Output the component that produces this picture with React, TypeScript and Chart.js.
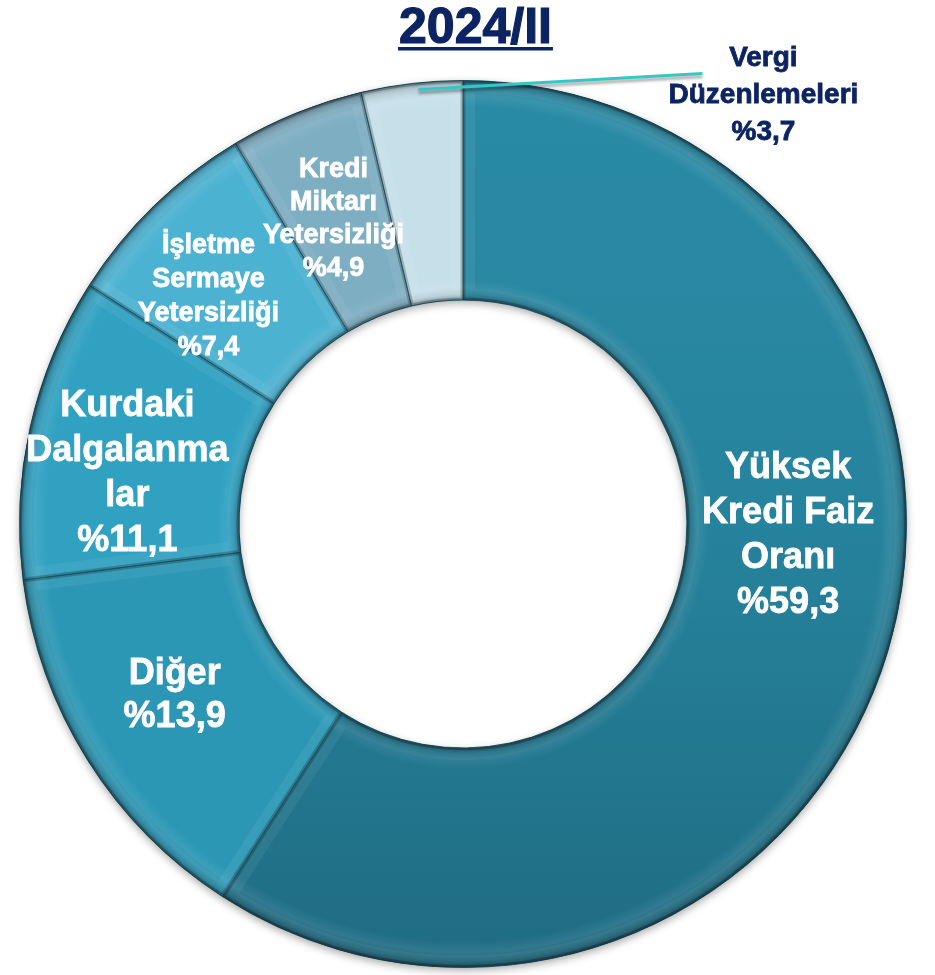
import React, { useEffect, useRef } from "react";
import { Chart, registerables } from "chart.js";

Chart.register(...registerables);

const TITLE = "2024/II";
const categories = [
  "Yüksek Kredi Faiz Oranı",
  "Diğer",
  "Kurdaki Dalgalanmalar",
  "İşletme Sermaye Yetersizliği",
  "Kredi Miktarı Yetersizliği",
  "Vergi Düzenlemeleri",
];
const values = [59.3, 13.9, 11.1, 7.4, 4.9, 3.7];
const labelLines = [
  ["Yüksek", "Kredi Faiz", "Oranı"],
  ["Diğer"],
  ["Kurdaki", "Dalgalanma", "lar"],
  ["İşletme", "Sermaye", "Yetersizliği"],
  ["Kredi", "Miktarı", "Yetersizliği"],
  ["Vergi", "Düzenlemeleri"],
];
const colors = ["#26839d", "#2b97b5", "#31a1c2", "#4cb2d2", "#7eaec2", "#c6e0ea"];

// label styling / nudges relative to each arc's centre point
const labelStyle = [
  { size: 36, lh: 45, dx: 5, dy: -83, color: "#ffffff" },
  { size: 36, lh: 43, dx: -6, dy: -6, color: "#ffffff" },
  { size: 36, lh: 45, dx: -10, dy: 23, color: "#ffffff" },
  { size: 27, lh: 34, dx: -22, dy: 12, color: "#ffffff" },
  { size: 27, lh: 33, dx: -4, dy: 4, color: "#ffffff" },
  { size: 28, lh: 37, dx: 339, dy: -97, color: "#0d2463" },
];

const FONT = '"Liberation Sans", Arial, sans-serif';
const fmt = (v: number) => "%" + v.toFixed(1).replace(".", ",");

function arcPath(ctx: CanvasRenderingContext2D, a: any) {
  ctx.beginPath();
  ctx.arc(a.x, a.y, a.outerRadius, a.startAngle, a.endAngle);
  ctx.arc(a.x, a.y, a.innerRadius, a.endAngle, a.startAngle, true);
  ctx.closePath();
}

const decoPlugin = {
  id: "deco",
  beforeDatasetsDraw(chart: any) {
    const ctx: CanvasRenderingContext2D = chart.ctx;
    const meta = chart.getDatasetMeta(0);
    const a0 = meta.data[0];
    if (!a0) return;
    ctx.save();
    ctx.shadowColor = "rgba(0,0,0,0.35)";
    ctx.shadowBlur = 8;
    ctx.shadowOffsetY = 3;
    ctx.fillStyle = "#1f6f86";
    ctx.beginPath();
    ctx.arc(a0.x, a0.y, a0.outerRadius, 0, Math.PI * 2);
    ctx.arc(a0.x, a0.y, a0.innerRadius, Math.PI * 2, 0, true);
    ctx.closePath();
    ctx.fill();
    ctx.restore();
  },
  afterDatasetsDraw(chart: any) {
    const ctx: CanvasRenderingContext2D = chart.ctx;
    const meta = chart.getDatasetMeta(0);
    meta.data.forEach((a: any) => {
      ctx.save();
      arcPath(ctx, a);
      ctx.clip();
      const g = ctx.createRadialGradient(a.x, a.y, a.innerRadius, a.x, a.y, a.outerRadius);
      g.addColorStop(0, "rgba(0,0,0,0.35)");
      g.addColorStop(0.025, "rgba(0,0,0,0.08)");
      g.addColorStop(0.06, "rgba(255,255,255,0.06)");
      g.addColorStop(0.1, "rgba(255,255,255,0)");
      g.addColorStop(0.88, "rgba(255,255,255,0)");
      g.addColorStop(0.93, "rgba(255,255,255,0.08)");
      g.addColorStop(0.975, "rgba(0,0,0,0.12)");
      g.addColorStop(1, "rgba(0,0,0,0.42)");
      ctx.fillStyle = g;
      ctx.fillRect(a.x - a.outerRadius, a.y - a.outerRadius, a.outerRadius * 2, a.outerRadius * 2);
      arcPath(ctx, a);
      ctx.lineWidth = 24;
      ctx.strokeStyle = "rgba(255,255,255,0.06)";
      ctx.stroke();
      ctx.lineWidth = 5;
      ctx.strokeStyle = "rgba(0,0,0,0.22)";
      ctx.stroke();
      ctx.restore();
    });
  },
  afterDraw(chart: any) {
    const ctx: CanvasRenderingContext2D = chart.ctx;
    const meta = chart.getDatasetMeta(0);
    // title
    ctx.save();
    ctx.fillStyle = "#0d2463";
    ctx.strokeStyle = "#0d2463";
    ctx.lineWidth = 1.2;
    ctx.font = `bold 50px ${FONT}`;
    ctx.textAlign = "center";
    ctx.textBaseline = "alphabetic";
    const tw = ctx.measureText(TITLE).width;
    const tx = chart.width / 2 + 8;
    ctx.fillText(TITLE, tx, 43);
    ctx.strokeText(TITLE, tx, 43);
    ctx.fillRect(tx - tw / 2 - 1, 47, tw + 2, 3.5);
    ctx.restore();

    meta.data.forEach((a: any, i: number) => {
      const st = labelStyle[i];
      const c = a.tooltipPosition(false);
      const lines = [...labelLines[i], fmt(values[i])];
      const cx = c.x + st.dx;
      const cy = c.y + st.dy;
      if (i === values.length - 1) {
        const mid = (a.startAngle + a.endAngle) / 2;
        const r = a.outerRadius - 6;
        ctx.save();
        ctx.strokeStyle = "#35c7c7";
        ctx.lineWidth = 3;
        ctx.shadowColor = "rgba(0,0,0,0.35)";
        ctx.shadowBlur = 3;
        ctx.shadowOffsetY = 3;
        ctx.beginPath();
        ctx.moveTo(a.x + Math.cos(mid) * r + 6, a.y + Math.sin(mid) * r);
        ctx.lineTo(cx - 61, cy - 22);
        ctx.stroke();
        ctx.restore();
      }
      ctx.save();
      ctx.fillStyle = st.color;
      ctx.strokeStyle = st.color;
      ctx.lineWidth = 0.8;
      ctx.font = `bold ${st.size}px ${FONT}`;
      ctx.textAlign = "center";
      ctx.textBaseline = "middle";
      const top = cy - ((lines.length - 1) * st.lh) / 2;
      lines.forEach((t, k) => {
        ctx.fillText(t, cx, top + k * st.lh);
        ctx.strokeText(t, cx, top + k * st.lh);
      });
      ctx.restore();
    });
  },
};

export default function App() {
  const ref = useRef<HTMLCanvasElement | null>(null);
  useEffect(() => {
    if (!ref.current) return;
    const chart = new Chart(ref.current, {
      type: "doughnut",
      data: {
        labels: categories,
        datasets: [
          {
            data: values,
            backgroundColor: (ctx: any) => {
              const i = ctx.dataIndex;
              const area = ctx.chart.chartArea;
              if (i === 0 && area) {
                const g = ctx.chart.ctx.createLinearGradient(0, area.top, 0, area.bottom);
                g.addColorStop(0, "#2a8ba6");
                g.addColorStop(0.5, "#26839d");
                g.addColorStop(1, "#1f6c83");
                return g;
              }
              return colors[i];
            },
            borderColor: "#1c5c6f",
            borderWidth: 1,
          },
        ],
      },
      options: {
        animation: false,
        responsive: false,
        maintainAspectRatio: false,
        cutout: "50.5%",
        layout: { padding: { left: 19, right: 28, top: 80, bottom: 7 } },
        plugins: {
          legend: { display: false },
          tooltip: { enabled: false },
          title: { display: false },
        },
      },
      plugins: [decoPlugin],
    });
    return () => chart.destroy();
  }, []);
  return (
    <div style={{ position: "absolute", left: 0, top: 0, width: 935, height: 975, background: "#ffffff" }}>
      <canvas ref={ref} width={935} height={975} style={{ display: "block" }} />
    </div>
  );
}
